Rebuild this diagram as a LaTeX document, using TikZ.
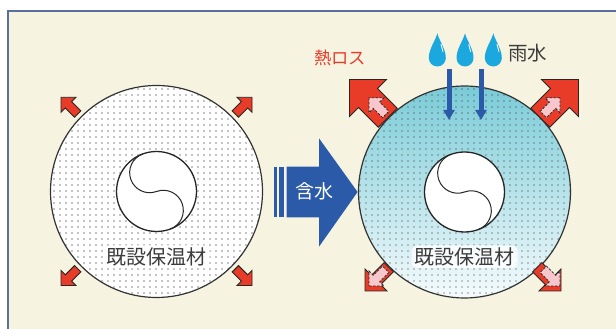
\documentclass[tikz,border=0pt]{standalone}
\usepackage{fontspec}
\newfontfamily\jpfont{Noto Sans CJK JP}
\usepackage{tikz}
\usetikzlibrary{calc,arrows.meta,patterns.meta,positioning}
\definecolor{paperCream}{RGB}{246,244,225}
\definecolor{frameBlue}{RGB}{90,111,155}
\definecolor{soakBlue}{RGB}{43,91,168}
\definecolor{lossRed}{RGB}{232,59,40}
\definecolor{lossPink}{RGB}{247,199,203}
\definecolor{dropBlue}{RGB}{26,168,222}
\definecolor{wetTop}{RGB}{122,203,215}
\definecolor{wetBottom}{RGB}{245,251,253}
\definecolor{inkGray}{RGB}{60,60,60}

\tikzset{
  % corner arrow: #1 head leg, #2 body width, #3 body length
  pics/heatarrow/.style n args={3}{code={
    \path[pic actions] (0,0) -- ({-0.7071*#1},{0.7071*#1}) -- ({-0.7071*#1},{#2/2})
      -- ({-0.7071*#1-#3},{#2/2}) -- ({-0.7071*#1-#3},{-#2/2}) -- ({-0.7071*#1},{-#2/2})
      -- ({-0.7071*#1},{-0.7071*#1}) -- cycle;
  }},
  rim/.style={draw=black!80, line width=1.2pt},
  core/.style={draw=black!85, line width=1.3pt},
  loss/.style={draw=black!85, line width=0.9pt, fill=lossRed},
  oldloss/.style={draw=black!85, line width=0.8pt, dash pattern=on 2.5pt off 1.5pt, fill=lossPink},
  rainflow/.style={soakBlue, line width=5pt, -{Triangle[width=11pt,length=10pt]}},
  lbl/.style={font=\jpfont\fontsize{20}{24}\selectfont, text=inkGray, inner sep=0pt},
  glow/.style={lbl, fill=white, fill opacity=0.85, text opacity=1, inner xsep=3pt, inner ysep=2pt, rounded corners=6pt}
}

\begin{document}
\begin{tikzpicture}[x=1pt,y=1pt]
\useasboundingbox (0,0) rectangle (616,329);
\clip (0,0) rectangle (616,329);
\fill[white] (0,0) rectangle (616,329);
\fill[paperCream] (8.3,-5) rectangle (630,318);
\draw[frameBlue, line width=2pt] (8.3,-5) |- (630,318);

\coordinate (dry) at (156.5,137.5);
\coordinate (wet) at (464.5,137);

% dry insulation
\fill[white] (dry) circle (106);
\fill[pattern={Dots[radius=0.6pt,distance=6pt]}, pattern color=black] (dry) circle (106);
\draw[rim] (dry) circle (106);

% wet insulation
\shade[top color=wetTop, bottom color=wetBottom] (wet) circle (106);
\fill[pattern={Dots[radius=0.6pt,distance=6pt]}, pattern color=black!85] (wet) circle (106);
\draw[rim] (wet) circle (106);

% pipes
\foreach \c in {dry,wet}
{
\filldraw[core, fill=white] (\c) circle (40);
\draw[black!85, line width=1pt] ($(\c)+(110:40)$) arc[start angle=110, end angle=290, radius=20]
  arc[start angle=110, end angle=-70, radius=20];
}

% material labels
\node[glow] (lblDry) at ($(dry)+(0,-65.2)$) {既設保温材};
\node[glow] (lblWet) at ($(wet)+(0,-64.7)$) {既設保温材};

% heat loss, dry
\foreach \ang/\dx/\dy in {135/-95.5/94.2, 45/95.5/94.2, 225/-95.5/-94, 315/95.5/-94}
{
\pic[loss, rotate=\ang] at ($(dry)+(\dx,\dy)$) {heatarrow={15}{9}{13}};
}

% heat loss, wet
\pic[loss, rotate=135] at ($(wet)+(-115,112.5)$) {heatarrow={37}{27}{28}};
\pic[loss, rotate=45] at ($(wet)+(114,112.5)$) {heatarrow={37}{27}{28}};
\pic[loss, rotate=225] at ($(wet)+(-99.5,-99)$) {heatarrow={22}{13}{18}};
\pic[loss, rotate=315] at ($(wet)+(96.5,-99)$) {heatarrow={22}{13}{18}};
\foreach \ang/\dx/\dy in {135/-95.5/94.2, 45/95.5/94.2, 225/-95.5/-94, 315/95.5/-94}
{
\pic[oldloss, rotate=\ang] at ($(wet)+(\dx,\dy)$) {heatarrow={15}{9}{13}};
}
\node[lbl, text=lossRed, font=\jpfont\fontsize{17.3}{20}\selectfont] (lblLoss) at (340,270.7) {熱ロス};

% soaking arrow
\fill[soakBlue] (273.7,111.7) rectangle (276.7,162.3);
\fill[soakBlue] (279,111.7) rectangle (283.7,162.3);
\fill[soakBlue] (286.7,162.3) -- (319,162.3) -- (319,190.7) -- (357.6,137)
  -- (319,82.3) -- (319,111.7) -- (286.7,111.7) -- cycle;
\node[lbl, text=white, font=\jpfont\fontsize{19}{22}\selectfont] (lblSoak) at (314,137.3) {含水};

% rain drops
\foreach \dx in {437.3,465,493.3}
{
\fill[dropBlue] (\dx,295.7) .. controls (\dx+2,288) and (\dx+8.5,280) .. (\dx+8.5,271)
  arc[start angle=0, end angle=-180, radius=8.5] .. controls (\dx-8.5,280) and (\dx-2,288) .. cycle;
\draw[white, line width=0.9pt, line cap=round] (\dx+3.8,284.5) to[bend left=10] (\dx+5.6,277.5);
}
\node[lbl, font=\jpfont\fontsize{19.5}{22}\selectfont] (lblRain) at (527.5,276.3) {雨水};

\coordinate (rainA) at (449,259.7);
\coordinate (rainB) at (481,259.7);
\coordinate (soakA) at (449,209);
\coordinate (soakB) at (481,209);
\draw[rainflow] (rainA) -- (soakA);
\draw[rainflow] (rainB) -- (soakB);
\end{tikzpicture}
\end{document}
